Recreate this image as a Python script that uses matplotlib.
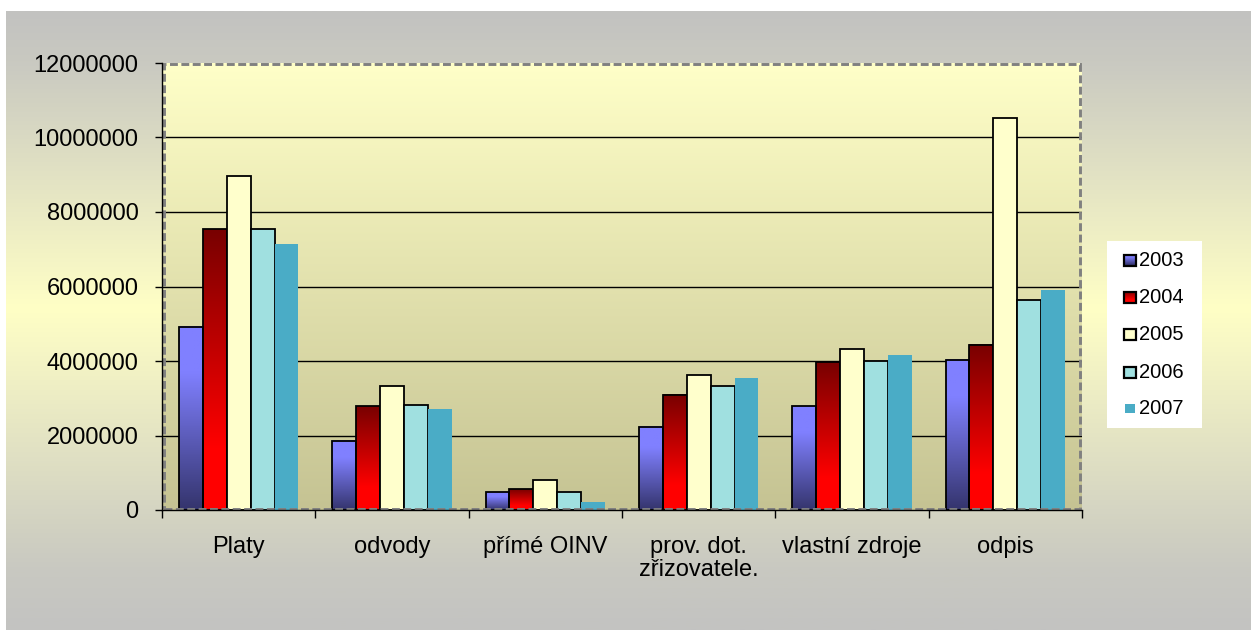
import numpy as np
import matplotlib.pyplot as plt
from matplotlib.colors import to_rgb
from matplotlib.patches import Rectangle

plt.rcParams['font.family'] = ['Liberation Sans', 'DejaVu Sans']

# Data
categories = ['Platy', 'odvody', 'přímé OINV', 'prov. dot.\nzřizovatele.', 'vlastní zdroje', 'odpis']
years = ['2003', '2004', '2005', '2006', '2007']
v2003 = [4920000, 1860000, 470000, 2230000, 2790000, 4030000]
v2004 = [7540000, 2790000, 560000, 3090000, 3970000, 4430000]
v2005 = [8970000, 3330000, 810000, 3620000, 4320000, 10520000]
v2006 = [7540000, 2820000, 490000, 3330000, 4000000, 5640000]
v2007 = [7140000, 2710000, 220000, 3540000, 4160000, 5910000]
series = [v2003, v2004, v2005, v2006, v2007]

W, H = 1251, 630


def vgrad(stops, n=256):
    # stops: list of (pos 0=bottom..1=top, color)
    pos = np.linspace(0, 1, n)
    ps = [p for p, _ in stops]
    cs = np.array([to_rgb(c) for _, c in stops])
    arr = np.stack([np.interp(pos, ps, cs[:, k]) for k in range(3)], axis=-1)
    return arr[:, None, :]


# gradients for the bars (bottom -> top)
grad_2003 = vgrad([(0, '#34346c'), (0.75, '#8080ff'), (1, '#8080ff')])
grad_2004 = vgrad([(0, '#ff0000'), (0.22, '#ff0000'), (1, '#780000')])
fills = [grad_2003, grad_2004, '#ffffcc', '#a0e0e0', '#4aacc6']
edges = [True, True, True, True, False]

fig = plt.figure(figsize=(W / 100, H / 100), dpi=100)
fig.patch.set_facecolor('white')

# outer background gradient
bg = fig.add_axes([6 / W, 0, 1 - 6 / W, 1 - 11 / H], zorder=-5)
bg.imshow(vgrad([(0, '#c3c3c1'), (0.1, '#c9c9c1'), (0.52, '#ffffc6'),
                 (0.92, '#c9c9c1'), (1, '#c2c2c0')]),
          aspect='auto', origin='lower', extent=(0, 1, 0, 1))
bg.set_axis_off()

left, right, top, bottom = 162, 1082, 63, 510
ax = fig.add_axes([left / W, 1 - bottom / H, (right - left) / W, (bottom - top) / H])

ax.imshow(vgrad([(0, '#c5c393'), (1, '#ffffc8')]), aspect='auto', origin='lower',
          extent=(0, 6, 0, 12000000), zorder=0)

ymax = 12000000
for g in range(2000000, ymax, 2000000):
    ax.axhline(g, color='black', lw=1.0, zorder=1)

w = 0.156
x = np.arange(len(categories)) + 0.5
for j, vals in enumerate(series):
    xs = x + (j - 2) * w
    fill = fills[j]
    for xi, v in zip(xs, vals):
        if isinstance(fill, np.ndarray):
            ax.imshow(fill, aspect='auto', origin='lower',
                      extent=(xi - w / 2, xi + w / 2, 0, v), zorder=2)
            ax.bar(xi, v, width=w, facecolor='none', edgecolor='black',
                   linewidth=1.3, zorder=3)
        else:
            ax.bar(xi, v, width=w, color=fill,
                   edgecolor='black' if edges[j] else 'none',
                   linewidth=1.3 if edges[j] else 0, zorder=3)

ax.set_xlim(0, 6)
ax.set_ylim(0, ymax)

# dashed plot-area border
ax.add_patch(Rectangle((0.002, 0.003), 0.996, 0.994, transform=ax.transAxes,
                       fill=False, edgecolor='#808080', lw=2.1,
                       linestyle=(0, (2.7, 1.2)), zorder=4, clip_on=False))

for s in ['top', 'right']:
    ax.spines[s].set_visible(False)
for s in ['left', 'bottom']:
    ax.spines[s].set_color('black')
    ax.spines[s].set_linewidth(1.0)
    ax.spines[s].set_zorder(5)

ax.set_yticks(range(0, ymax + 1, 2000000))
ax.set_yticklabels([str(t) for t in range(0, ymax + 1, 2000000)], fontsize=17)
ax.tick_params(axis='y', direction='out', length=5, width=1, pad=12, colors='black')

ax.set_xticks(range(0, 7))
ax.set_xticklabels([])
ax.tick_params(axis='x', which='major', direction='out', length=5.5, width=1)
ax.set_xticks(x, minor=True)
ax.set_xticklabels(categories, minor=True, fontsize=17, linespacing=1.05)
ax.tick_params(axis='x', which='minor', length=0, pad=19)

# legend box
lg = fig.add_axes([1107 / W, 1 - 428 / H, 95 / W, 187 / H], zorder=6)
lg.set_facecolor('white')
lg.set_xticks([])
lg.set_yticks([])
for s in lg.spines.values():
    s.set_visible(False)
ycent = [19, 56, 93, 131, 167]
for j, (yr, yc) in enumerate(zip(years, ycent)):
    fill = fills[j]
    if isinstance(fill, np.ndarray):
        lg.imshow(fill, aspect='auto', origin='lower',
                  extent=(16.5, 28.5, yc + 5.5, yc - 5.5), zorder=2)
        lg.add_patch(Rectangle((16.5, yc - 5.5), 12, 11, fill=False,
                               edgecolor='black', lw=1.6, zorder=3))
    elif edges[j]:
        lg.add_patch(Rectangle((16.5, yc - 5.5), 12, 11, facecolor=fill,
                               edgecolor='black', lw=1.6, zorder=3))
    else:
        lg.add_patch(Rectangle((17.5, yc - 4.5), 10, 9, facecolor=fill,
                               edgecolor='none', zorder=3))
    lg.text(32, yc + 0.5, yr, fontsize=14.5, va='center', ha='left')
lg.set_xlim(0, 95)
lg.set_ylim(187, 0)

fig.savefig('out.png', dpi=100)
